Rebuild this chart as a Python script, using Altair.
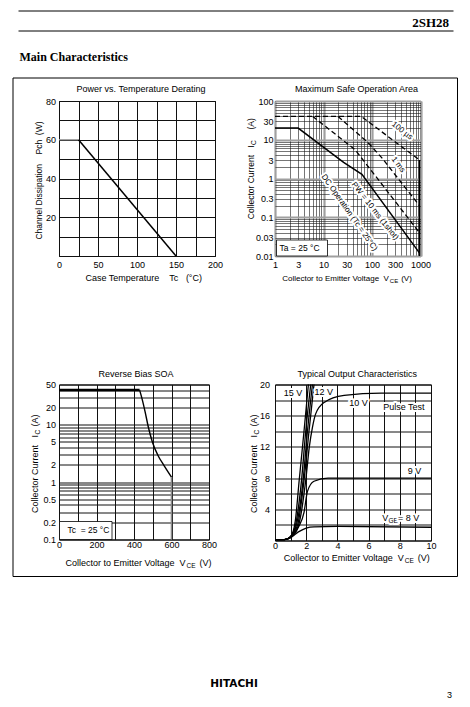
import json
import math
import altair as alt
import pandas as pd

SANS = "Liberation Sans"
SERIF = "Liberation Serif"
NB = "\u00a0"

# ---------------- Power vs. Temperature Derating
DERATE_TC = [0, 25, 150]
DERATE_PCH = [60, 60, 0]
DERATE_X_LABELS = [0, 50, 100, 150, 200]
DERATE_Y_LABELS = [20, 40, 60, 80]

# ---------------- Maximum Safe Operation Area
SOA_100US_V = [1, 60, 950]
SOA_100US_I = [40, 40, 3]
SOA_1MS_V = [20, 83, 160, 950]
SOA_1MS_I = [40, 8.4, 3.4, 0.2]
SOA_10MS_V = [6, 45, 950]
SOA_10MS_I = [40, 5.5, 0.04]
SOA_DC_V = [1, 3, 26, 62, 950]
SOA_DC_I = [20, 20, 2.6, 1.28, 0.012]
SOA_LIMIT_V = [950, 950]
SOA_LIMIT_I = [3, 0.01]
SOA_X_LABELS = [1, 3, 10, 30, 100, 300, 1000]
SOA_Y_LABELS = [0.01, 0.03, 0.1, 0.3, 1, 3, 10, 30, 100]

# ---------------- Reverse Bias SOA
RB_V = [0, 430, 442, 459, 476, 498, 528, 562, 600]
RB_I = [40, 40, 29, 16.9, 9.2, 5.0, 2.9, 1.9, 1.22]
RB_LIMIT_V = [600, 600]
RB_LIMIT_I = [1.22, 0.1]
RB_X_LABELS = [0, 200, 400, 600, 800]
RB_Y_LABELS = [0.1, 0.2, 0.5, 1, 2, 5, 10, 20, 50]

# ---------------- Typical Output Characteristics
OUT_SERIES = ["15 V", "steep b", "steep c", "12 V", "10 V", "9 V", "8 V"]
OUT_V = [
    [0, 0.6, 1.0, 1.3, 1.55, 1.86, 2.14],
    [0, 0.6, 1.0, 1.35, 1.7, 1.97, 2.29],
    [0, 0.6, 1.0, 1.4, 1.8, 2.08, 2.4],
    [0, 0.6, 1.0, 1.45, 1.86, 2.18, 2.5],
    [0, 0.6, 1.0, 1.5, 1.97, 2.2, 2.4, 2.6, 3.15, 4.43, 6.8, 10],
    [0, 0.6, 1.0, 1.5, 1.86, 2.08, 2.5, 3.4, 6, 10],
    [0, 0.6, 1.0, 1.5, 2.0, 2.5, 4, 10],
]
OUT_I = [
    [0.1, 0.1, 0.5, 2.5, 7.7, 14, 20],
    [0.1, 0.1, 0.5, 2.3, 7.7, 14, 20],
    [0.1, 0.1, 0.5, 2.2, 7.7, 14, 20],
    [0.1, 0.1, 0.5, 2.0, 7.7, 14, 20],
    [0.1, 0.1, 0.4, 1.9, 7.7, 12, 14.5, 16.2, 17.7, 18.6, 18.9, 18.9],
    [0.1, 0.1, 0.4, 1.7, 3.6, 6.3, 7.6, 8.0, 8.0, 8.0],
    [0.1, 0.1, 0.35, 1.1, 1.6, 1.75, 1.8, 1.7],
]
OUT_X_LABELS = [0, 2, 4, 6, 8, 10]
OUT_Y_LABELS = [4, 8, 12, 16, 20]

# ---------------- helpers
ONE = pd.DataFrame({"k": [0]})
DECADE = "abs(log(datum.value)/LN10 - round(log(datum.value)/LN10)) < 0.001"


def sp(s):
    """keep runs of spaces (SVG collapses them)"""
    return s.replace("  ", NB + NB).replace(NB + " ", NB + NB)


def log_grid(lo, hi):
    vals = []
    e = math.floor(math.log10(lo) + 1e-9)
    while 10.0 ** e <= hi * 1.0000001:
        for m in range(1, 10):
            v = round(m * 10.0 ** e, 10)
            if lo * 0.9999999 <= v <= hi * 1.0000001:
                vals.append(v)
        e += 1
    return vals


def make_axis(grid_vals, label_vals, pad, fmt="d", gray_decades=False, size=9):
    kw = dict(
        values=list(grid_vals),
        labelExpr="indexof(%s, datum.value) >= 0 ? datum.label : ''" % json.dumps(label_vals),
        format=fmt, ticks=False, tickSize=0, domain=False, grid=True,
        labelPadding=pad, labelOverlap=False, labelFlush=False, labelBound=False,
        title=None, labelFont=SANS, labelFontSize=size, labelColor="black",
    )
    if gray_decades:
        kw["gridColor"] = {"condition": {"test": DECADE, "value": "#a0a0a0"}, "value": "#1a1a1a"}
        kw["gridWidth"] = {"condition": {"test": DECADE, "value": 2.2}, "value": 0.6}
    else:
        kw["gridColor"] = "#111111"
        kw["gridWidth"] = 1
    return alt.Axis(**kw)


def txt(o, x, y, s, size=9, align="left", angle=0, font=SANS, weight="normal", halo=False):
    enc = dict(x=alt.value(x - o[0]), y=alt.value(y - o[1]))
    kw = dict(text=sp(s), fontSize=size, align=align, baseline="alphabetic", angle=angle,
              font=font, fontWeight=weight)
    out = []
    if halo:
        out.append(alt.Chart(ONE).mark_text(color="white", stroke="white", strokeWidth=4,
                                            strokeJoin="round", **kw).encode(**enc))
    out.append(alt.Chart(ONE).mark_text(color="black", **kw).encode(**enc))
    return out


def hrule(o, x1, x2, y, w=1.0):
    return alt.Chart(ONE).mark_rule(color="black", strokeWidth=w).encode(
        x=alt.value(x1 - o[0]), x2=alt.value(x2 - o[0]), y=alt.value(y - o[1]))


def box(o, x1, y1, x2, y2, **kw):
    return alt.Chart(ONE).mark_rect(**kw).encode(
        x=alt.value(x1 - o[0]), x2=alt.value(x2 - o[0]),
        y=alt.value(y1 - o[1]), y2=alt.value(y2 - o[1]))


def xtitle_sub(o, x, y, size, subsize, gap_after):
    main = "Collector to Emitter Voltage  V"
    w_main = 13.394 * size
    w_sub = 1.389 * subsize
    out = txt(o, x, y, main, size=size)
    out += txt(o, x + w_main + 0.5, y + 2, "CE", size=subsize)
    out += txt(o, x + w_main + 0.5 + w_sub + gap_after, y, "(V)", size=size)
    return out


def ytitle_sub(o, xb, y_end_i, y_paren, size):
    out = txt(o, xb, y_end_i, "Collector Current   I", size=size, align="right", angle=270)
    out += txt(o, xb + 2.3, y_end_i - 0.5, "C", size=6.5, align="left", angle=270)
    out += txt(o, xb, y_paren, "(A)", size=size, align="left", angle=270)
    return out


def df(v, i):
    return pd.DataFrame({"v": v, "i": i})


# ---------------- Panel 1: Power vs Temperature Derating
O1 = (58.5, 100.5)
x1 = alt.X("v:Q", scale=alt.Scale(domain=[0, 200], nice=False, zero=False),
           axis=make_axis(list(range(0, 201, 25)), DERATE_X_LABELS, 4.5))
y1 = alt.Y("i:Q", scale=alt.Scale(domain=[0, 80], nice=False, zero=False),
           axis=make_axis(list(range(0, 81, 10)), DERATE_Y_LABELS, 3.5))
p1_layers = [
    alt.Chart(df(DERATE_TC[:2], DERATE_PCH[:2])).mark_line(color="#9a9a9a", strokeWidth=1.3).encode(x=x1, y=y1),
    alt.Chart(df(DERATE_TC[1:], DERATE_PCH[1:])).mark_line(color="black", strokeWidth=1.5).encode(x=x1, y=y1),
    # page decorations
    box(O1, 8, 8, 460, 697, opacity=0),
    hrule(O1, 18, 453, 10.5),
    hrule(O1, 18, 453, 30.5),
    box(O1, 12.5, 77.5, 457, 576, fillOpacity=0, stroke="black", strokeWidth=1),
]
p1_layers += txt(O1, 448.5, 26, "2SH28", size=13, align="right", font=SERIF, weight="bold")
p1_layers += txt(O1, 19, 60, "Main Characteristics", size=12, font=SERIF, weight="bold")
p1_layers += txt(O1, 233.5, 686, "HITACHI", size=10.5, align="center", font="DejaVu Sans", weight="bold")
p1_layers += txt(O1, 449, 697, "3", size=9, align="center")
p1_layers += txt(O1, 140.5, 91.5, "Power vs. Temperature Derating", align="center")
p1_layers += txt(O1, 85, 280, "Case Temperature    Tc   (°C)")
p1_layers += txt(O1, 41.5, 180, "Channel Dissipation    Pch  (W)", size=8.5, align="center", angle=270)
p1 = alt.layer(*p1_layers).properties(width=156, height=155)

# ---------------- Panel 2: Maximum Safe Operation Area
O2 = (274.5, 100.5)
x2 = alt.X("v:Q", scale=alt.Scale(type="log", domain=[1, 1000], nice=False),
           axis=make_axis(log_grid(1, 1000), SOA_X_LABELS, 4.5, fmt="~g", gray_decades=True))
y2 = alt.Y("i:Q", scale=alt.Scale(type="log", domain=[0.01, 100], nice=False),
           axis=make_axis(log_grid(0.01, 100), SOA_Y_LABELS, 2, fmt="~g", gray_decades=True))
dash = [5, 3]
p2_layers = [
    alt.Chart(df(SOA_100US_V, SOA_100US_I)).mark_line(color="black", strokeWidth=1.3, strokeDash=dash).encode(x=x2, y=y2),
    alt.Chart(df(SOA_1MS_V, SOA_1MS_I)).mark_line(color="black", strokeWidth=1.3, strokeDash=dash).encode(x=x2, y=y2),
    alt.Chart(df(SOA_10MS_V, SOA_10MS_I)).mark_line(color="black", strokeWidth=1.3, strokeDash=dash).encode(x=x2, y=y2),
    alt.Chart(df(SOA_DC_V, SOA_DC_I)).mark_line(color="black", strokeWidth=1.5).encode(x=x2, y=y2),
    alt.Chart(df(SOA_LIMIT_V, SOA_LIMIT_I)).mark_line(color="black", strokeWidth=1.5).encode(x=x2, y=y2),
    box(O2, 276, 239.5, 327, 255.5, fill="white", stroke="black", strokeWidth=0.8),
]
p2_layers += txt(O2, 279, 250.5, "Ta = 25 °C", size=8.5)
p2_layers += txt(O2, 400.3, 132, "100 µs", size=8, align="center", angle=38, halo=True)
p2_layers += txt(O2, 396, 165.5, "1 ms", size=8, align="center", angle=52, halo=True)
p2_layers += txt(O2, 372.7, 212, "PW = 10 ms (1shot)", size=8, align="center", angle=52, halo=True)
p2_layers += txt(O2, 347, 213.5, "DC Operation (Tc = 25°C)", size=8, align="center", angle=55, halo=True)
p2_layers += txt(O2, 356, 91.5, "Maximum Safe Operation Area", align="center")
p2_layers += xtitle_sub(O2, 281.7, 280, 8, 6, 3)
p2_layers += ytitle_sub(O2, 253, 145, 129, 8.5)
p2 = alt.layer(*p2_layers).properties(width=145.5, height=155)

# ---------------- Panel 3: Reverse Bias SOA
O3 = (58.5, 384)
x3 = alt.X("v:Q", scale=alt.Scale(domain=[0, 800], nice=False, zero=False),
           axis=make_axis(list(range(0, 801, 100)), RB_X_LABELS, 0.5))
y3 = alt.Y("i:Q", scale=alt.Scale(type="log", domain=[0.1, 50], nice=False),
           axis=make_axis(log_grid(0.1, 50), RB_Y_LABELS, 3.5, fmt="~g"))
p3_layers = [
    alt.Chart(df(RB_V[:2], RB_I[:2])).mark_line(color="black", strokeWidth=2.6).encode(x=x3, y=y3),
    alt.Chart(df(RB_V[1:], RB_I[1:])).mark_line(color="black", strokeWidth=1.4, interpolate="monotone").encode(x=x3, y=y3),
    alt.Chart(df(RB_LIMIT_V, RB_LIMIT_I)).mark_line(color="#8a8a8a", strokeWidth=1.6).encode(x=x3, y=y3),
    box(O3, 59, 521, 111.5, 539, fill="white", stroke="black", strokeWidth=0.8),
]
p3_layers += txt(O3, 67, 532, "Tc  = 25 °C", size=8.5)
p3_layers += txt(O3, 135.5, 376.5, "Reverse Bias SOA", align="center")
p3_layers += xtitle_sub(O3, 65, 565, 9, 6.5, 4)
p3_layers += ytitle_sub(O3, 37.3, 434.5, 426, 9)
p3 = alt.layer(*p3_layers).properties(width=150, height=155)

# ---------------- Panel 4: Typical Output Characteristics
O4 = (274.5, 384)
x4 = alt.X("v:Q", scale=alt.Scale(domain=[0, 10], nice=False, zero=False),
           axis=make_axis(list(range(0, 11)), OUT_X_LABELS, 0.5))
y4 = alt.Y("i:Q", scale=alt.Scale(domain=[0, 20], nice=False, zero=False),
           axis=make_axis(list(range(0, 21, 2)), OUT_Y_LABELS, 5.5))
out_rows = []
for name, vs, is_ in zip(OUT_SERIES, OUT_V, OUT_I):
    for v, i in zip(vs, is_):
        out_rows.append({"s": name, "v": v, "i": i})
out_df = pd.DataFrame(out_rows)
p4_layers = [
    alt.Chart(out_df).mark_line(color="black", strokeWidth=1.3, interpolate="monotone").encode(
        x=x4, y=y4, detail="s:N"),
]
p4_layers += txt(O4, 292.5, 395.5, "15 V", align="center", halo=True)
p4_layers += txt(O4, 323.3, 394.5, "12 V", align="center", halo=True)
p4_layers += txt(O4, 358, 405.5, "10 V", align="center", halo=True)
p4_layers += txt(O4, 403.3, 409.5, "Pulse Test", align="center", halo=True)
p4_layers += txt(O4, 414, 473.5, "9 V", align="center", halo=True)
p4_layers += txt(O4, 381.7, 520.5, "V", halo=True)
p4_layers += txt(O4, 387.9, 522.5, "GE", size=6.5, halo=True)
p4_layers += txt(O4, 397.5, 520.5, "= 8 V", halo=True)
p4_layers += txt(O4, 356.7, 376.5, "Typical Output Characteristics", align="center")
p4_layers += xtitle_sub(O4, 283.3, 560, 9, 6.5, 4)
p4_layers += ytitle_sub(O4, 256.5, 434.5, 426, 9)
p4 = alt.layer(*p4_layers).properties(width=156, height=156)

chart = alt.concat(
    p1, p2, p3, p4,
    columns=2,
    spacing={"row": 128.5, "column": 60},
    bounds="flush",
    padding=0,
).configure(font=SANS).configure_view(stroke="black", strokeWidth=1)

chart.save("out.html", embed_options={"renderer": "svg", "actions": False})
